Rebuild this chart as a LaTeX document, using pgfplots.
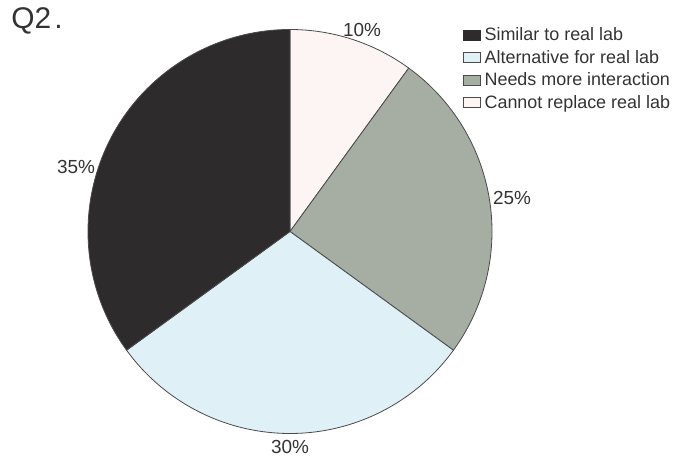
\documentclass[border=0pt]{standalone}
\usepackage{pgfplots}
\pgfplotsset{compat=1.18}
\usepackage{pgfplotstable}
\usepackage{fontspec}
\setmainfont{Liberation Sans}
\definecolor{cSim}{HTML}{2D2B2C}
\definecolor{cAlt}{HTML}{DFF0F7}
\definecolor{cNeed}{HTML}{A6AEA3}
\definecolor{cCan}{HTML}{FDF4F4}
\definecolor{cEdge}{HTML}{4A4A4A}
\definecolor{cText}{HTML}{333333}
\colorlet{col0}{cCan}
\colorlet{col1}{cNeed}
\colorlet{col2}{cAlt}
\colorlet{col3}{cSim}

% shares in percent, clockwise from 12 o'clock
\pgfplotstableread{
idx label value
0 Cannot 10
1 Needs 25
2 Alternative 30
3 Similar 35
}\piedata

\def\R{202}
\def\cum{0}
\pgfplotsforeachungrouped \i in {0,...,3}{%
  \pgfplotstablegetelem{\i}{value}\of\piedata
  \pgfmathsetmacro\aS{90-3.6*\cum}%
  \pgfmathsetmacro\cumN{\cum+\pgfplotsretval}%
  \pgfmathsetmacro\aE{90-3.6*\cumN}%
  \expandafter\xdef\csname aS\i\endcsname{\aS}%
  \expandafter\xdef\csname aE\i\endcsname{\aE}%
  \xdef\cum{\cumN}%
}

\begin{document}
\begin{tikzpicture}
\begin{axis}[
  scale only axis, width=681bp, height=457bp,
  xmin=-290, xmax=391, ymin=-225.5, ymax=231.5,
  hide axis, clip=false,
  legend style={at={(axis cs:173,205)}, anchor=north west, draw=none, fill=none,
    font=\fontsize{18}{20}\selectfont, text=cText, row sep=6bp, column sep=3bp,
    inner sep=0pt, nodes={inner sep=1bp}, cells={anchor=west}},
  legend image code/.code={\draw[#1] (0bp,-5bp) rectangle (17bp,5bp);},
]
\pgfplotsinvokeforeach{0,...,3}{
  \filldraw[draw=cEdge, line width=0.8bp, fill=col#1, line join=round]
    (axis cs:0,0) -- (axis cs:{\R*cos(\csname aS#1\endcsname)},{\R*sin(\csname aS#1\endcsname)})
    arc[start angle=\csname aS#1\endcsname, end angle=\csname aE#1\endcsname, radius=\R bp] -- cycle;
}
\addlegendimage{fill=cSim, draw=cSim}
\addlegendentry{Similar to real lab}
\addlegendimage{fill=cAlt, draw=cEdge}
\addlegendentry{Alternative for real lab}
\addlegendimage{fill=cNeed, draw=cEdge}
\addlegendentry{Needs more interaction}
\addlegendimage{fill=cCan, draw=cEdge}
\addlegendentry{Cannot replace real lab}

\begin{scope}[every node/.style={font=\fontsize{19}{21}\selectfont, text=cText, inner sep=0pt}]
\node at (axis cs:72,201.5) {10\%};
\node at (axis cs:222,33.5) {25\%};
\node at (axis cs:0,-215.5) {30\%};
\node at (axis cs:-214,64.5) {35\%};
\end{scope}
\node[font=\fontsize{30}{30}\selectfont, text=cText, inner sep=0pt] at (axis cs:-253,210.5) {Q2\kern3bp.};
\end{axis}
\path (current axis.south west) rectangle (current axis.north east);
\end{tikzpicture}
\end{document}
